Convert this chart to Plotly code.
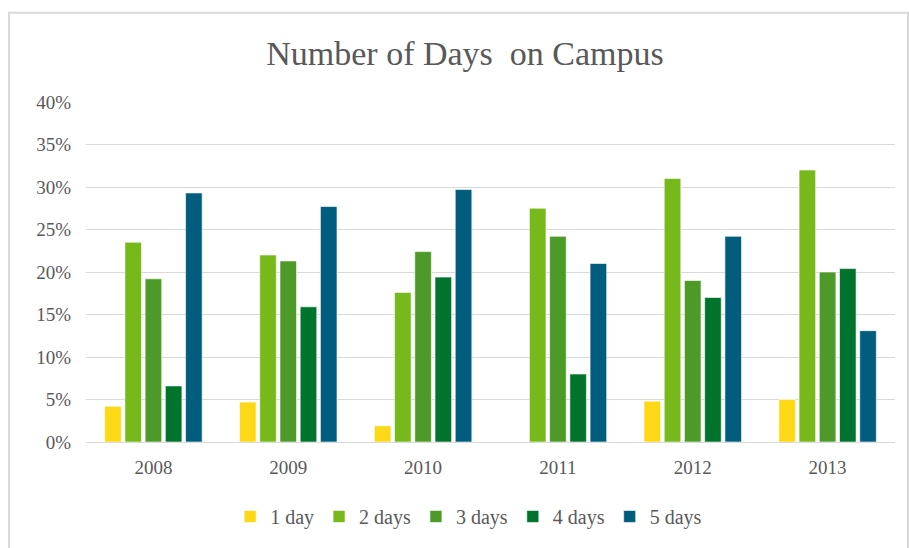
import plotly.graph_objects as go

years = ["2008", "2009", "2010", "2011", "2012", "2013"]
series_names = ["1 day", "2 days", "3 days", "4 days", "5 days"]
one_day = [0.042, 0.047, 0.019, 0.0, 0.048, 0.050]
two_days = [0.235, 0.220, 0.176, 0.275, 0.310, 0.320]
three_days = [0.192, 0.213, 0.224, 0.242, 0.190, 0.200]
four_days = [0.066, 0.159, 0.194, 0.080, 0.170, 0.204]
five_days = [0.293, 0.277, 0.297, 0.210, 0.242, 0.131]
colors = ["#FDD816", "#77B81A", "#4D9A28", "#00742C", "#005D7E"]
y_ticks = [0, 0.05, 0.10, 0.15, 0.20, 0.25, 0.30, 0.35, 0.40]

values = [one_day, two_days, three_days, four_days, five_days]
font_family = "Liberation Serif, Times New Roman, serif"
text_color = "#595959"

fig = go.Figure()
for name, vals, col in zip(series_names, values, colors):
    fig.add_trace(go.Bar(
        x=years, y=vals, name=name,
        marker=dict(color=col, line=dict(color="rgba(255,255,255,0.6)", width=1)),
        hoverinfo="x+y+name",
    ))

fig.update_layout(
    width=909, height=548,
    margin=dict(l=86, r=14, t=102, b=103),
    paper_bgcolor="white", plot_bgcolor="white",
    barmode="group", bargap=0.25, bargroupgap=0.18,
    font=dict(family=font_family, color=text_color, size=19),
    title=dict(text="Number of Days  on Campus", x=465/909, xref="container", xanchor="center",
               y=1-53/548, yref="container", yanchor="middle",
               font=dict(family=font_family, size=34, color=text_color)),
    showlegend=True,
    legend=dict(orientation="h", x=0.473, xanchor="center", y=-0.219, yanchor="middle",
                font=dict(family=font_family, size=20, color=text_color),
                traceorder="normal", itemwidth=30),
    xaxis=dict(showgrid=False, showline=True, linecolor="#D9D9D9", linewidth=1,
               ticks="", tickfont=dict(size=19, color=text_color), ticklabelstandoff=8),
    yaxis=dict(range=[0, 0.40], tickvals=y_ticks, tickformat=".0%", showgrid=True,
               gridcolor="#D9D9D9", gridwidth=1, zeroline=False, showline=False, ticks="",
               tickfont=dict(size=19, color=text_color), ticklabelstandoff=14),
    shapes=[dict(type="rect", xref="paper", yref="paper",
                 x0=(9-86)/809, x1=(908-86)/809, y0=(445-560)/343, y1=(445-12)/343,
                 line=dict(color="#D9D9D9", width=2), fillcolor="rgba(0,0,0,0)", layer="below")],
)

fig.write_html("out.html", config={"displayModeBar": False},
               post_script="document.body.style.margin='0';document.body.style.overflow='hidden';")
